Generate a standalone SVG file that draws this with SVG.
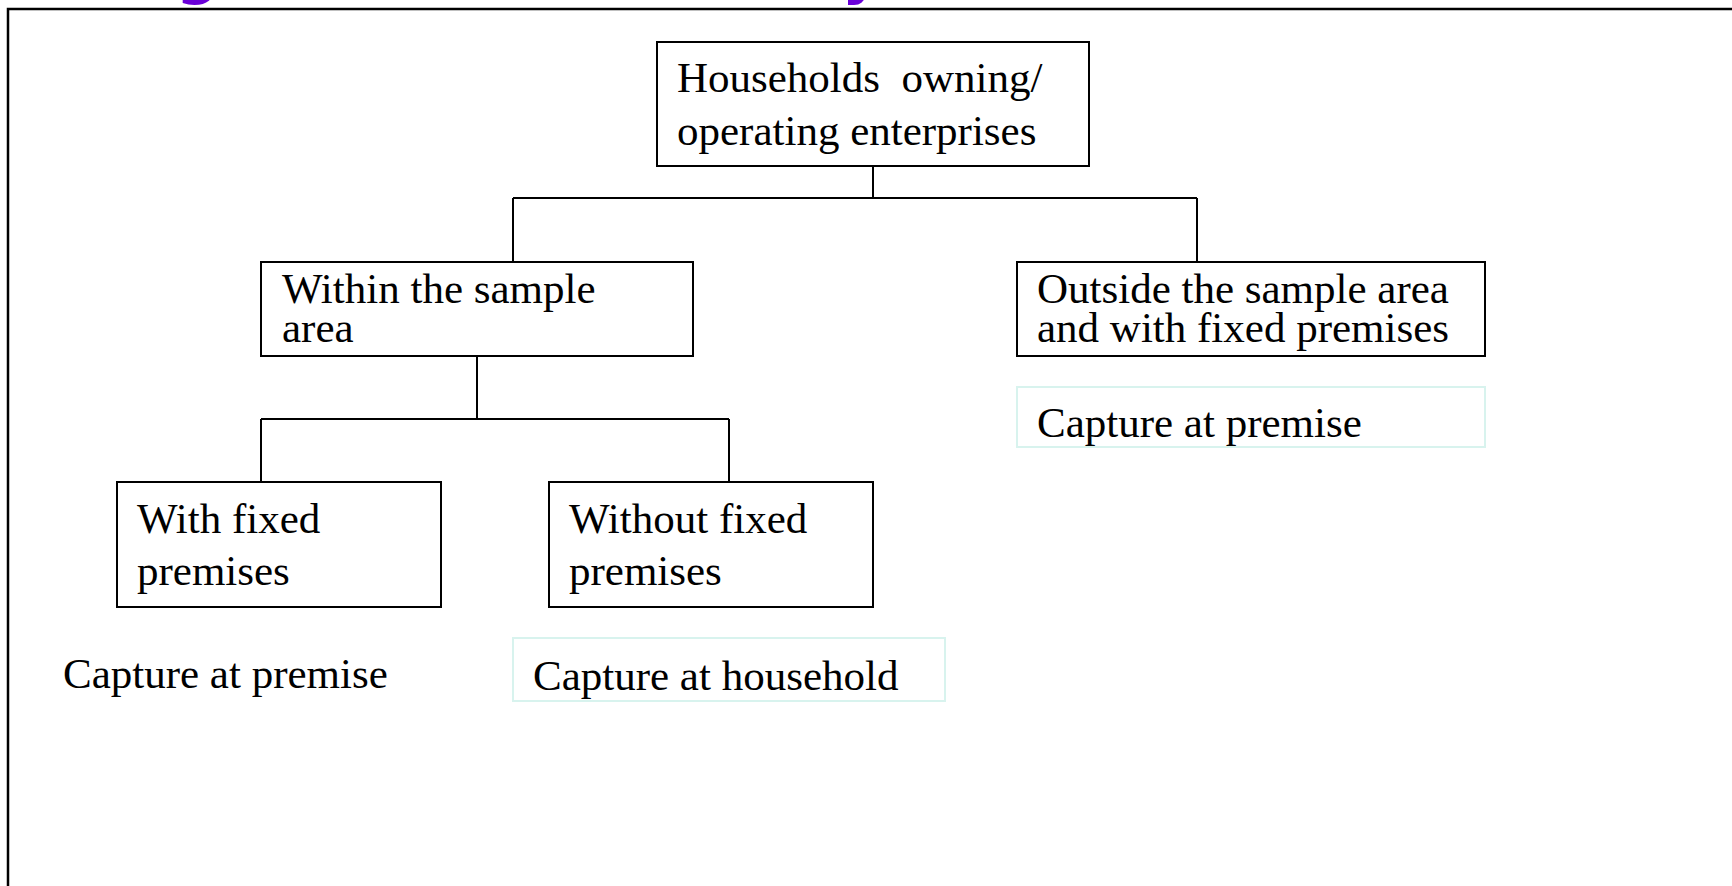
<svg xmlns="http://www.w3.org/2000/svg" width="1732" height="886" viewBox="0 0 1732 886">
<style>
.box{fill:#fff;stroke:#000;stroke-width:2}
.note{fill:#fff;stroke:#d8f3ee;stroke-width:2}
.t{font-family:"Liberation Serif","Times New Roman",serif;font-size:43px;fill:#000}
.title{font-family:"DejaVu Sans",sans-serif;font-size:60px;font-weight:bold;fill:#6a00d8}
.con{fill:none;stroke:#000;stroke-width:2}
</style>
<rect width="1732" height="886" fill="#fff"/>
<g id="title-fragments">
<text class="title" x="176" y="-8">g</text>
<text class="title" x="842" y="-8">y</text>
</g>
<path id="frame" d="M8,886 V9 H1732" fill="none" stroke="#000" stroke-width="2.5"/>
<g id="connectors">
<path class="con" d="M873,166 V198 M513,198 H1197 M513,198 V262 M1197,198 V262"/>
<path class="con" d="M477,356 V419 M261,419 H729 M261,419 V482 M729,419 V482"/>
</g>
<g id="root">
<rect class="box" x="657" y="42" width="432" height="124"/>
<text class="t" x="677" y="92" xml:space="preserve">Households  owning/</text>
<text class="t" x="677" y="145">operating enterprises</text>
</g>
<g id="within">
<rect class="box" x="261" y="262" width="432" height="94"/>
<text class="t" x="282" y="303">Within the sample</text>
<text class="t" x="282" y="342">area</text>
</g>
<g id="outside">
<rect class="box" x="1017" y="262" width="468" height="94"/>
<text class="t" x="1037" y="303">Outside the sample area</text>
<text class="t" x="1037" y="342">and with fixed premises</text>
</g>
<g id="outside-capture">
<rect class="note" x="1017" y="387" width="468" height="60"/>
<text class="t" x="1037" y="437">Capture at premise</text>
</g>
<g id="with-fixed">
<rect class="box" x="117" y="482" width="324" height="125"/>
<text class="t" x="137" y="533">With fixed</text>
<text class="t" x="137" y="585">premises</text>
</g>
<g id="without-fixed">
<rect class="box" x="549" y="482" width="324" height="125"/>
<text class="t" x="569" y="533">Without fixed</text>
<text class="t" x="569" y="585">premises</text>
</g>
<g id="with-capture">
<text class="t" x="63" y="688">Capture at premise</text>
</g>
<g id="without-capture">
<rect class="note" x="513" y="638" width="432" height="63"/>
<text class="t" x="533" y="690">Capture at household</text>
</g>
</svg>
